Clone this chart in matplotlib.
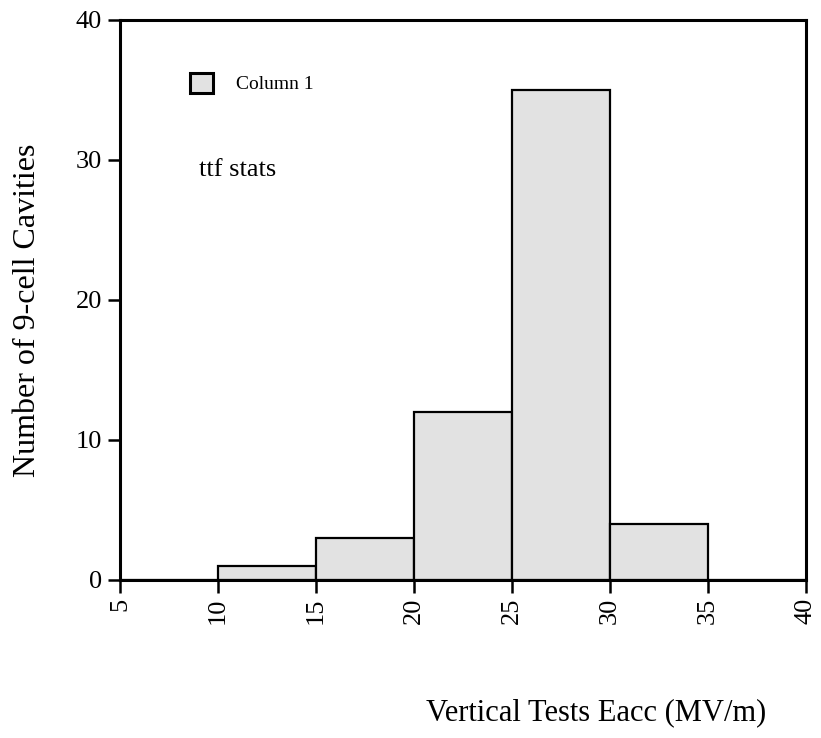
import matplotlib
matplotlib.use('Agg')
import matplotlib.pyplot as plt
import numpy as np

plt.rcParams['font.family'] = ['Liberation Serif', 'DejaVu Serif']

# histogram bins (MV/m) and counts per bin
bin_edges = [5, 10, 15, 20, 25, 30, 35, 40]
counts = [0, 1, 3, 12, 35, 4, 0]
x_ticks = [5, 10, 15, 20, 25, 30, 35, 40]
y_ticks = [0, 10, 20, 30, 40]

fig = plt.figure(figsize=(8.21, 7.38), dpi=100)
ax = fig.add_axes([120 / 821, 1 - 580 / 738, 686 / 821, 560 / 738])

lefts = np.array(bin_edges[:-1])
widths = np.diff(bin_edges)
bars = ax.bar(lefts, counts, width=widths, align='edge',
              color='#e2e2e2', edgecolor='black', linewidth=1.6,
              label='Column 1')

ax.set_xlim(5, 40)
ax.set_ylim(0, 40)
ax.set_xticks(x_ticks)
ax.set_yticks(y_ticks)
ax.set_xticklabels([str(t) for t in x_ticks], rotation=90)
ax.tick_params(axis='both', direction='out', length=9, width=1.8,
               labelsize=19, pad=4)

for s in ax.spines.values():
    s.set_linewidth(2.2)

leg = ax.legend(handles=[bars[1]], labels=['Column 1'], frameon=False,
                loc='center left', bbox_to_anchor=(172 / 821, 1 - 83 / 738),
                bbox_transform=fig.transFigure, fontsize=14,
                handlelength=1.2, handleheight=1.2, handletextpad=1.2)
for h in leg.legend_handles:
    h.set_linewidth(2.2)

fig.text(199 / 821, 1 - 170 / 738, 'ttf stats', fontsize=19,
         ha='left', va='center')

fig.text(596 / 821, 1 - 713 / 738, 'Vertical Tests Eacc (MV/m)',
         fontsize=22, ha='center', va='center')
fig.text(28 / 821, 1 - 310 / 738, 'Number of 9-cell Cavities',
         fontsize=23, ha='center', va='center', rotation=90)

fig.savefig('out.png', dpi=100)
